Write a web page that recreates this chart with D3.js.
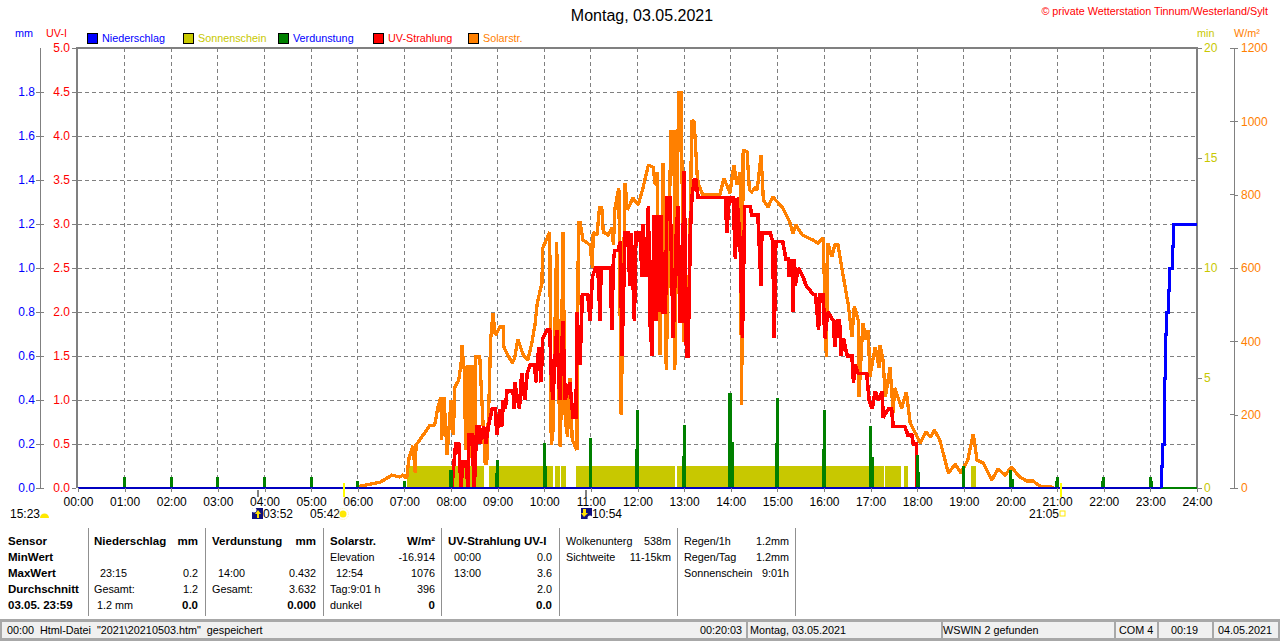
<!DOCTYPE html>
<html>
<head>
<meta charset="utf-8">
<style>
html, body { margin: 0; padding: 0; background: #fff; }
svg { display: block; }
text { font-family: "Liberation Sans", Arial, sans-serif; font-size: 10.8px; }
.b { font-weight: bold; font-size: 11.5px; }
.domain { display: none; }
</style>
<script src="https://d3js.org/d3.v7.min.js"></script>
</head>
<body>
<svg id="chart" width="1280" height="641"></svg>
<script>
// minutes since midnight / value pairs
const solarMin = [359,389,404,414,418,423,426,431,434,435,447,452,459,463,467,468,471,475,480,483,485,490,493,494,497,499,502,505,507,510,512,517,521,524,526,529,531,534,537,543,547,548,553,559,562,566,573,579,584,588,591,597,598,607,609,611,616,620,621,624,627,630,633,636,642,644,646,650,659,662,663,668,671,674,676,682,687,689,691,696,699,704,707,714,721,727,734,740,743,745,749,753,757,763,767,768,773,776,780,785,790,793,797,799,804,813,826,831,835,839,844,848,852,854,856,861,864,867,871,874,879,882,888,894,907,916,920,924,932,946,952,959,963,965,970,974,978,983,990,991,996,999,1004,1005,1010,1014,1017,1019,1026,1031,1032,1036,1039,1045,1049,1051,1060,1066,1071,1084,1091,1097,1102,1109,1120,1129,1136,1145,1152,1157,1165,1176,1184,1193,1201,1212,1221,1229,1238,1251,1255];
const solarVal = [3,16,35,30,35,27,82,115,41,117,153,169,172,218,248,131,248,90,240,145,275,295,341,390,322,104,335,82,335,49,357,357,185,68,68,248,404,477,417,439,439,385,363,341,355,406,363,349,395,444,504,559,654,698,117,145,671,117,112,698,185,140,300,131,104,725,725,676,663,600,698,690,764,764,698,690,709,663,764,818,199,832,758,791,772,818,881,875,826,862,363,886,322,971,971,322,1077,1077,404,404,1003,998,845,826,799,799,799,845,826,804,881,826,862,226,922,917,813,807,818,813,908,785,766,794,764,725,695,717,690,676,668,682,357,668,630,663,663,600,513,505,412,496,458,248,450,404,431,303,385,327,390,349,248,330,205,273,218,262,177,123,153,139,158,131,41,65,41,76,147,76,68,22,52,35,57,30,19,19,5,5,0];

const uvMin = [481,486,490,493,495,499,502,503,507,510,513,516,517,522,525,528,533,537,539,543,546,547,550,552,560,561,562,568,571,575,578,582,588,589,593,596,598,604,607,609,611,616,620,624,627,633,637,641,642,646,649,656,659,662,666,669,672,673,685,687,689,691,695,698,700,704,708,710,712,716,718,723,726,727,731,734,736,739,741,744,746,748,750,753,756,758,762,766,770,772,775,777,780,783,785,788,790,793,795,798,833,835,838,843,846,848,852,855,858,865,867,875,879,880,883,887,891,894,896,898,907,911,914,915,919,920,922,923,927,933,937,946,949,953,955,959,961,965,972,974,977,980,982,985,990,996,998,1000,1004,1006,1015,1018,1022,1026,1030,1035,1036,1043,1047,1049,1064,1068,1073,1075,1079,1080];
const uvVal = [0,0.5,0.5,0,0.3,0.3,0,0.6,0.6,0,0.7,0.7,0.5,0.7,0.5,0.7,0.9,0.9,0.6,0.9,0.7,1.0,0.9,1.1,1.1,0.9,1.2,0.9,1.3,1.0,1.3,1.4,1.4,1.2,1.6,1.2,1.7,1.8,1.8,1.3,1.0,1.8,1.0,1.9,1.0,1.2,0.8,0.8,2.0,1.4,2.2,2.2,1.9,2.4,2.5,2.5,1.9,2.5,2.5,1.8,2.6,2.7,2.7,2.8,1.5,2.9,2.9,2.3,2.9,1.9,2.9,2.9,2.4,3.0,2.4,3.2,1.9,1.5,3.1,1.9,3.1,2.0,3.1,2.0,2.0,3.3,3.3,1.7,2.9,3.2,1.9,1.9,3.6,1.5,1.5,2.9,3.3,3.5,3.5,3.3,3.3,2.9,3.3,3.3,2.6,3.3,2.8,1.7,3.2,3.2,3.1,3.1,2.3,2.9,2.9,2.9,2.9,2.8,1.7,2.8,2.8,2.6,2.6,2.4,2.6,2.0,2.6,2.3,2.5,2.4,2.3,2.2,2.2,1.8,2.2,2.2,1.7,2.0,1.9,1.6,1.9,1.9,1.5,1.7,1.5,1.5,1.2,1.4,1.3,1.3,1.3,1.0,0.9,1.1,1.0,1.1,0.8,0.9,0.9,0.7,0.7,0.6,0.6,0.5,0.5,0];

// rain stays at 0 until 23:14, the flat part is drawn thinner
const rainZeroMin = [0,1394];
const rainZeroVal = [0,0];
const rainMin = [1394,1394,1396,1398,1400,1401,1403,1404,1408,1409,1410,1440];
const rainVal = [0,0.1,0.2,0.5,0.7,0.8,0.9,1.0,1.0,1.1,1.2,1.2];

const evapMin = [60,120,180,240,300,360,420,479,480,539,540,600,602,659,660,719,720,779,780,839,840,842,899,900,959,960,1020,1022,1080,1082,1139,1140,1200,1202,1259,1260,1319,1320,1380,1382];
const evapVal = [0.05,0.05,0.05,0.05,0.05,0.03,0.03,0.08,0.08,0.07,0.127,0.206,0.1,0.11,0.229,0.177,0.355,0.145,0.286,0.433,0.433,0.21,0.205,0.41,0.177,0.355,0.283,0.14,0.15,0.073,0.05,0.1,0.082,0.04,0.03,0.05,0.03,0.05,0.05,0.03];
const evapZeroMin = [1394,1440];
const evapZeroVal = [0,0];

const sunStart = [423,529,614,622,641,771,1039,1063,1149];
const sunEnd = [522,611,620,628,768,1037,1059,1068,1156];
const sunLevel = 1;

const hourLabels = d3.range(0, 25).map(h => String(h).padStart(2, '0') + ':00');
const mmTicks = [0,0.2,0.4,0.6,0.8,1.0,1.2,1.4,1.6,1.8];
const uvTicks = [0,0.5,1,1.5,2,2.5,3,3.5,4,4.5,5];
const minTicks = [0,5,10,15,20];
const wattTicks = [0,200,400,600,800,1000,1200];

const legendNames = ['Niederschlag','Sonnenschein','Verdunstung','UV-Strahlung','Solarstr.'];
const legendSwatch = ['#0000ff','#c8c800','#008000','#ff0000','#ff8000'];
const legendText = ['#0000ff','#c8c800','#0000ff','#ff0000','#ff8000'];
const legendX = [87,183,278,373,468];

const rowLabels = ['Sensor','MinWert','MaxWert','Durchschnitt','03.05. 23:59'];
const rainLeft = ['Niederschlag','','  23:15','Gesamt:',' 1.2 mm'];
const rainRight = ['mm','','0.2','1.2','0.0'];
const evapLeft = ['Verdunstung','','  14:00','Gesamt:',''];
const evapRight = ['mm','','0.432','3.632','0.000'];
const solarLeft = ['Solarstr.','Elevation','  12:54','Tag:9:01 h','dunkel'];
const solarRight = ['W/m²','-16.914','1076','396','0'];
const uvLeft = ['UV-Strahlung UV-I','  00:00','  13:00','',''];
const uvRight = ['','0.0','3.6','2.0','0.0'];
const cloudLeft = ['Wolkenunterg','Sichtweite','','',''];
const cloudRight = ['538m','11-15km','','',''];
const totalLeft = ['Regen/1h','Regen/Tag','Sonnenschein','',''];
const totalRight = ['1.2mm','1.2mm','9:01h','',''];

const statusText = ['00:00  Html-Datei  "2021\\20210503.htm"  gespeichert','00:20:03','Montag, 03.05.2021','WSWIN 2 gefunden','COM 4','00:19','04.05.2021'];
const statusX = [7,700,750,943,1119,1171,1218];
const statusEdges = [746,941,1114,1157,1212];

const svg = d3.select('#chart');
const margin = { top: 48, right: 83, bottom: 153, left: 78 };
const innerWidth = 1280 - margin.left - margin.right;
const innerHeight = 641 - margin.top - margin.bottom;
const bottomY = margin.top + innerHeight;

const x = d3.scaleLinear().domain([0, 1440]).range([margin.left, margin.left + innerWidth]);
const yMm = d3.scaleLinear().domain([0, 2]).range([bottomY, margin.top]);
const yUv = d3.scaleLinear().domain([0, 5]).range([bottomY, margin.top]);
const yMin = d3.scaleLinear().domain([0, 20]).range([bottomY, margin.top]);
const yWatt = d3.scaleLinear().domain([0, 1200]).range([bottomY, margin.top]);

const grey = '#808080';

// grid
const grid = svg.append('g').attr('shape-rendering', 'crispEdges');
grid.selectAll('.gv').data(d3.range(60, 1440, 60)).enter().append('line')
    .attr('x1', d => x(d)).attr('x2', d => x(d))
    .attr('y1', margin.top).attr('y2', bottomY)
    .attr('stroke', grey).attr('stroke-dasharray', '4 3');
grid.selectAll('.gh').data(uvTicks.slice(1, -1)).enter().append('line')
    .attr('x1', margin.left).attr('x2', margin.left + innerWidth)
    .attr('y1', d => yUv(d)).attr('y2', d => yUv(d))
    .attr('stroke', grey).attr('stroke-dasharray', '4 3');

// sunshine
svg.append('g').attr('shape-rendering', 'crispEdges')
    .selectAll('rect').data(sunStart).enter().append('rect')
    .attr('x', d => x(d))
    .attr('width', (d, i) => x(sunEnd[i]) - x(d))
    .attr('y', yMin(sunLevel))
    .attr('height', bottomY - yMin(sunLevel))
    .attr('fill', '#c8c800');

function drawLine(times, values, yScale, color, width, curve) {
    const line = d3.line()
        .x(d => x(times[d]))
        .y(d => yScale(values[d]))
        .curve(curve || d3.curveLinear);
    svg.append('path')
        .attr('d', line(d3.range(times.length)))
        .attr('fill', 'none')
        .attr('stroke', color)
        .attr('stroke-width', width)
        .attr('stroke-linejoin', 'miter')
        .attr('stroke-miterlimit', 1.5)
        .attr('shape-rendering', 'crispEdges');
}

drawLine(solarMin, solarVal, yWatt, '#ff8000', 3.3);
drawLine(uvMin, uvVal, yUv, '#ff0000', 3.6);

// evaporation spikes
svg.append('g').attr('shape-rendering', 'crispEdges')
    .selectAll('rect').data(evapMin).enter().append('rect')
    .attr('x', d => x(d) - 1.5)
    .attr('width', 3)
    .attr('y', (d, i) => yMm(evapVal[i]))
    .attr('height', (d, i) => bottomY - yMm(evapVal[i]))
    .attr('fill', '#008000');

// plot frame
svg.append('path')
    .attr('d', `M${margin.left - 1},${bottomY}V${margin.top}H${margin.left + innerWidth}V${bottomY}`)
    .attr('fill', 'none').attr('stroke', grey).attr('stroke-width', 2.5)
    .attr('shape-rendering', 'crispEdges');

drawLine(evapZeroMin, evapZeroVal, yMm, '#008000', 1.5);
drawLine(rainZeroMin, rainZeroVal, yMm, '#0000c0', 1.5);
drawLine(rainMin, rainVal, yMm, '#0000ff', 3, d3.curveStepAfter);

// axes
function styleAxis(g, color) {
    g.selectAll('text').attr('fill', color).style('font-size', '12px');
    g.selectAll('line').attr('stroke', grey).attr('shape-rendering', 'crispEdges');
}

svg.append('g').attr('transform', `translate(0,${bottomY})`)
    .call(d3.axisBottom(x).tickValues(d3.range(0, 1441, 60))
        .tickFormat((d, i) => hourLabels[i]).tickSize(4).tickPadding(5))
    .call(g => styleAxis(g, '#000'));

svg.append('g').attr('transform', `translate(${margin.left - 2},0)`)
    .call(d3.axisLeft(yUv).tickValues(uvTicks).tickFormat(d3.format('.1f')).tickSize(4).tickPadding(2))
    .call(g => styleAxis(g, '#ff0000'));

svg.append('g').attr('transform', 'translate(40,0)')
    .call(d3.axisLeft(yMm).tickValues(mmTicks).tickFormat(d3.format('.1f')).tickSize(4).tickPadding(1))
    .call(g => styleAxis(g, '#0000ff'));
svg.selectAll('.mmtick').data(mmTicks).enter().append('line')
    .attr('x1', 40).attr('x2', 44)
    .attr('y1', d => yMm(d)).attr('y2', d => yMm(d))
    .attr('stroke', grey).attr('shape-rendering', 'crispEdges');
svg.append('line').attr('x1', 40).attr('x2', 40).attr('y1', margin.top).attr('y2', bottomY)
    .attr('stroke', grey).attr('shape-rendering', 'crispEdges');

svg.append('g').attr('transform', `translate(${margin.left + innerWidth + 1},0)`)
    .call(d3.axisRight(yMin).tickValues(minTicks).tickSize(4).tickPadding(2))
    .call(g => styleAxis(g, '#c8c800'));

svg.append('g').attr('transform', 'translate(1234,0)')
    .call(d3.axisRight(yWatt).tickValues(wattTicks).tickFormat(d3.format('d')).tickSize(4).tickPadding(3))
    .call(g => styleAxis(g, '#ff8000'));
svg.selectAll('.wtick').data(wattTicks).enter().append('line')
    .attr('x1', 1230).attr('x2', 1234)
    .attr('y1', d => yWatt(d)).attr('y2', d => yWatt(d))
    .attr('stroke', grey).attr('shape-rendering', 'crispEdges');
svg.append('line').attr('x1', 1234).attr('x2', 1234).attr('y1', margin.top).attr('y2', bottomY)
    .attr('stroke', grey).attr('shape-rendering', 'crispEdges');

// titles and units
svg.append('text').attr('x', 642).attr('y', 21).attr('text-anchor', 'middle')
    .style('font-size', '16px').text('Montag, 03.05.2021');
svg.append('text').attr('x', 1268).attr('y', 15).attr('text-anchor', 'end')
    .attr('fill', '#ff0000').text('© private Wetterstation Tinnum/Westerland/Sylt');
const unitText = [['mm', 15, '#0000ff'], ['UV-I', 46, '#ff0000'], ['min', 1197, '#c8c800'], ['W/m²', 1234, '#ff8000']];
svg.selectAll('.unit').data(unitText).enter().append('text')
    .attr('x', d => d[1]).attr('y', 37).attr('fill', d => d[2]).text(d => d[0]);

// legend
const legend = svg.append('g');
legend.selectAll('rect').data(legendNames).enter().append('rect')
    .attr('x', (d, i) => legendX[i]).attr('y', 33)
    .attr('width', 10).attr('height', 10)
    .attr('fill', (d, i) => legendSwatch[i])
    .attr('stroke', '#000').attr('shape-rendering', 'crispEdges');
legend.selectAll('text').data(legendNames).enter().append('text')
    .attr('x', (d, i) => legendX[i] + 15).attr('y', 42)
    .attr('fill', (d, i) => legendText[i]).text(d => d);

// sun and moon times under the axis
const markerText = [['15:23', 10], ['03:52', 263], ['05:42', 310], ['10:54', 592], ['21:05', 1029]];
svg.selectAll('.marker').data(markerText).enter().append('text')
    .attr('x', d => d[1]).attr('y', 518).style('font-size', '12px').text(d => d[0]);
const markerTicks = [[232, grey, 490, 497], [654, grey, 490, 497], [342, '#ffff00', 483, 497], [1265, '#ffff00', 483, 497]];
svg.selectAll('.mtick').data(markerTicks).enter().append('line')
    .attr('x1', d => x(d[0])).attr('x2', d => x(d[0]))
    .attr('y1', d => d[2]).attr('y2', d => d[3])
    .attr('stroke', d => d[1]).attr('stroke-width', 2)
    .attr('shape-rendering', 'crispEdges');

// icons
svg.append('rect').attr('x', 252).attr('y', 508).attr('width', 11).attr('height', 11).attr('fill', '#10107c');
svg.append('path').attr('d', 'M258,510l3,4h-2v4h-2v-4h-2z').attr('fill', '#ffe000');
svg.append('circle').attr('cx', 254).attr('cy', 510).attr('r', 2.5).attr('fill', '#fff');
svg.append('rect').attr('x', 581).attr('y', 508).attr('width', 11).attr('height', 11).attr('fill', '#10107c');
svg.append('path').attr('d', 'M584,517l-3,-4h2v-4h3v4h2z').attr('fill', '#ffe000');
svg.append('circle').attr('cx', 590).attr('cy', 518).attr('r', 2.5).attr('fill', '#fff');
svg.append('path').attr('d', 'M40,518a4.5,4.5 0 0 1 9,0z').attr('fill', '#ffe800');
svg.append('circle').attr('cx', 343).attr('cy', 514).attr('r', 3.5).attr('fill', '#ffe800');
svg.append('circle').attr('cx', 343).attr('cy', 514).attr('r', 5.5).attr('fill', 'none')
    .attr('stroke', '#fff2a0').attr('stroke-dasharray', '1 1');
svg.append('rect').attr('x', 1060).attr('y', 511).attr('width', 5).attr('height', 5)
    .attr('fill', '#fff').attr('stroke', '#ffe800');

// table below the chart
const tableTop = 545;
const tableStep = 16;
const tableCols = [
    { left: rowLabels, x: 8, bold: [0,1,2,3,4] },
    { left: rainLeft, right: rainRight, x: 94, end: 198, bold: [0], boldR: [0,4] },
    { left: evapLeft, right: evapRight, x: 212, end: 316, bold: [0], boldR: [0,4] },
    { left: solarLeft, right: solarRight, x: 330, end: 435, bold: [0], boldR: [0,4] },
    { left: uvLeft, right: uvRight, x: 448, end: 552, bold: [0], boldR: [4] },
    { left: cloudLeft, right: cloudRight, x: 566, end: 671, bold: [], boldR: [] },
    { left: totalLeft, right: totalRight, x: 684, end: 789, bold: [], boldR: [] }
];
tableCols.forEach(col => {
    col.left.forEach((t, i) => {
        svg.append('text').attr('x', col.x).attr('y', tableTop + i * tableStep)
            .attr('class', col.bold.includes(i) ? 'b' : null)
            .style('white-space', 'pre').text(t);
    });
    if (!col.right) return;
    col.right.forEach((t, i) => {
        svg.append('text').attr('x', col.end).attr('y', tableTop + i * tableStep)
            .attr('text-anchor', 'end')
            .attr('class', col.boldR.includes(i) ? 'b' : null).text(t);
    });
});
svg.selectAll('.sep').data([88,205,323,441,559,677,795]).enter().append('line')
    .attr('x1', d => d).attr('x2', d => d).attr('y1', 528).attr('y2', 616)
    .attr('stroke', '#909090').attr('shape-rendering', 'crispEdges');

// status bar
svg.append('rect').attr('x', 0).attr('y', 619).attr('width', 1280).attr('height', 22).attr('fill', '#a8a8a8');
svg.append('rect').attr('x', 2).attr('y', 622).attr('width', 1276).attr('height', 16).attr('fill', '#f0f0f0');
svg.selectAll('.edge').data(statusEdges).enter().append('rect')
    .attr('x', d => d).attr('y', 621).attr('width', 2).attr('height', 18).attr('fill', '#a8a8a8');
svg.selectAll('.status').data(statusText).enter().append('text')
    .attr('x', (d, i) => statusX[i]).attr('y', 634)
    .style('white-space', 'pre').text(d => d);
</script>
</body>
</html>
